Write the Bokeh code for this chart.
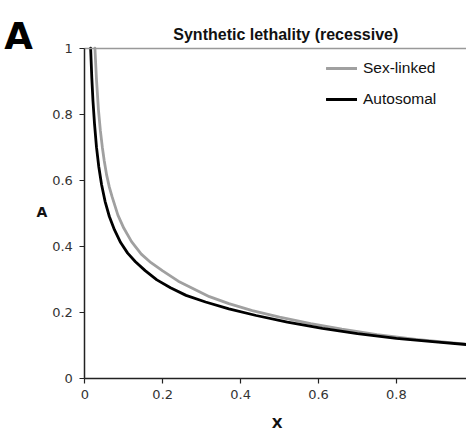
from bokeh.plotting import figure
from bokeh.models import Label, Legend, LegendItem, FixedTicker, LinearAxis, ColumnDataSource
from bokeh.embed import file_html
from bokeh.resources import INLINE

# ---- data ----
x_sex = [0.026, 0.030, 0.035, 0.040, 0.045, 0.050, 0.056, 0.063, 0.070, 0.085, 0.100,
         0.120, 0.145, 0.170, 0.200, 0.240, 0.280, 0.320, 0.370, 0.430, 0.500, 0.580,
         0.660, 0.750, 0.850, 0.980]
a_sex = [1.000, 0.905, 0.814, 0.750, 0.700, 0.658, 0.616, 0.579, 0.550, 0.494, 0.455,
         0.414, 0.376, 0.350, 0.325, 0.294, 0.270, 0.247, 0.226, 0.205, 0.185, 0.1655,
         0.1485, 0.1323, 0.1176, 0.1031]

x_auto = [0.015, 0.018, 0.021, 0.025, 0.030, 0.036, 0.043, 0.052, 0.063, 0.076, 0.092,
          0.110, 0.130, 0.155, 0.185, 0.220, 0.260, 0.310, 0.370, 0.440, 0.520, 0.610,
          0.700, 0.800, 0.900, 0.980]
a_auto = [1.000, 0.910, 0.840, 0.770, 0.700, 0.640, 0.587, 0.536, 0.490, 0.450, 0.411,
          0.379, 0.353, 0.326, 0.298, 0.274, 0.251, 0.231, 0.210, 0.190, 0.170, 0.151,
          0.135, 0.121, 0.110, 0.102]

x_ticks = [0, 0.2, 0.4, 0.6, 0.8]
x_tick_labels = ["0", "0.2", "0.4", "0.6", "0.8"]
y_ticks = [0, 0.2, 0.4, 0.6, 0.8, 1.0]
y_tick_labels = ["0", "0.2", "0.4", "0.6", "0.8", "1"]
x_min, x_max = 0.0, 0.98
y_min, y_max = 0.0, 1.0

series_names = ["Sex-linked", "Autosomal"]
series_colors = ["#a0a0a0", "#000000"]

title_text = "Synthetic lethality (recessive)"
panel_letter = "A"
x_label = "X"
y_label = "A"

# ---- figure: frame covers the whole canvas, axes pinned at 0 ----
W, H = 466, 437
left_px, top_px, bottom_px = 84.3, 47.7, 377.7
xs = (W - left_px) / (x_max - x_min)
ys = (bottom_px - top_px) / (y_max - y_min)
p = figure(width=W, height=H, output_backend="svg", toolbar_location=None,
           x_range=(x_min - left_px / xs, x_max),
           y_range=(y_min - (H - bottom_px) / ys, y_max + top_px / ys),
           min_border_left=0, min_border_right=0, min_border_top=0, min_border_bottom=0)
p.outline_line_color = None
p.background_fill_color = "white"
p.border_fill_color = "white"
p.xgrid.visible = False
p.ygrid.visible = False

p.xaxis.fixed_location = y_min
p.xaxis.bounds = (x_min, x_max)
p.yaxis.fixed_location = x_min
p.yaxis.bounds = (y_min, y_max)

for ax, ticks, labels in ((p.xaxis[0], x_ticks, x_tick_labels), (p.yaxis[0], y_ticks, y_tick_labels)):
    ax.ticker = FixedTicker(ticks=ticks)
    ax.major_label_overrides = {t: l for t, l in zip(ticks, labels)}
    ax.minor_tick_line_color = None
    ax.major_tick_out = 5
    ax.major_tick_in = 0
    ax.axis_line_color = "#222222"
    ax.axis_line_width = 1.5
    ax.major_tick_line_color = "#222222"
    ax.major_tick_line_width = 1.2
    ax.major_label_text_font = "DejaVu Sans"
    ax.major_label_text_font_size = "13px"
    ax.major_label_text_color = "#333333"
    ax.major_label_standoff = 7

# grey top border of the plot area
top_axis = LinearAxis(fixed_location=y_max, bounds=(x_min, x_max),
                      ticker=FixedTicker(ticks=[]), axis_line_color="#999999",
                      axis_line_width=1.5, major_tick_line_color=None,
                      minor_tick_line_color=None, major_label_text_alpha=0)
p.add_layout(top_axis, "above")

src_sex = ColumnDataSource(dict(x=x_sex, y=a_sex))
src_auto = ColumnDataSource(dict(x=x_auto, y=a_auto))
r_sex = p.line("x", "y", source=src_sex, line_color=series_colors[0], line_width=2.8,
               line_join="round", line_cap="round")
r_auto = p.line("x", "y", source=src_auto, line_color=series_colors[1], line_width=2.8,
                line_join="round", line_cap="round")

legend = Legend(items=[LegendItem(label=series_names[0], renderers=[r_sex]),
                       LegendItem(label=series_names[1], renderers=[r_auto])],
                location=(326, 328), padding=0, margin=0, spacing=11,
                glyph_width=31, glyph_height=20, label_height=20, label_standoff=6,
                label_text_font="Liberation Sans", label_text_font_size="15.5px",
                label_text_color="#111111",
                border_line_color=None, background_fill_alpha=0)
p.add_layout(legend)

p.add_layout(Label(x=0.516, y=1.041, text=title_text, text_align="center",
                   text_baseline="alphabetic", text_font="Liberation Sans",
                   text_font_style="bold", text_font_size="16px", text_color="#111111"))
p.add_layout(Label(x=-0.207, y=1.036, text=panel_letter, text_align="left",
                   text_baseline="alphabetic", text_font="DejaVu Sans",
                   text_font_style="bold", text_font_size="37px", text_color="#000000"))
p.add_layout(Label(x=0.494, y=-0.135, text=x_label, text_align="center",
                   text_baseline="middle", text_font="DejaVu Sans",
                   text_font_style="bold", text_font_size="14px", text_color="#111111"))
p.add_layout(Label(x=-0.11, y=0.503, text=y_label, text_align="center",
                   text_baseline="middle", text_font="DejaVu Sans",
                   text_font_style="bold", text_font_size="14px", text_color="#111111"))

open("out.html", "w").write(file_html(p, INLINE))
